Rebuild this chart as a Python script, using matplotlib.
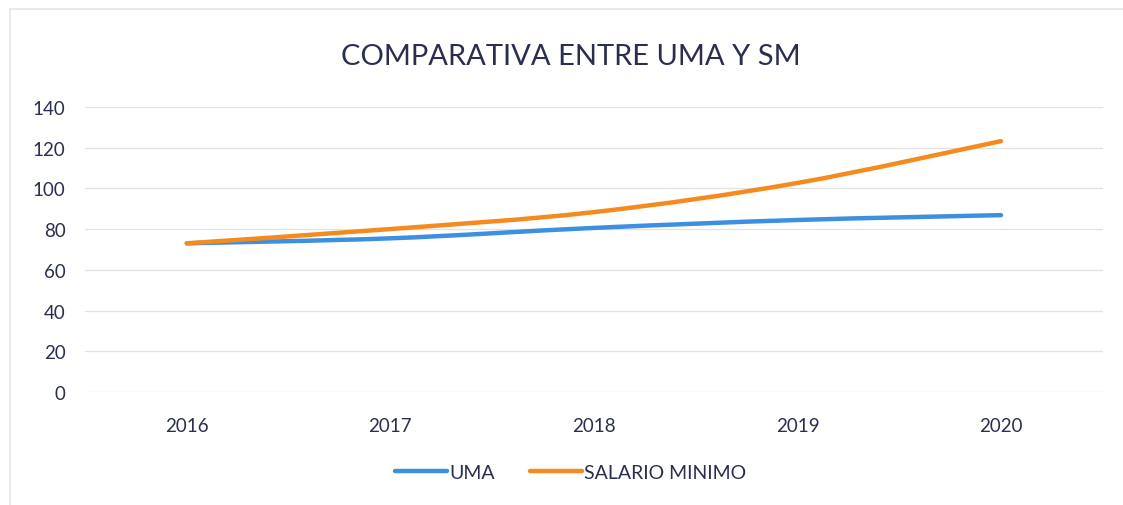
import matplotlib.pyplot as plt
from matplotlib.path import Path
from matplotlib.patches import PathPatch, Rectangle
from matplotlib.lines import Line2D

# data
years = ["2016", "2017", "2018", "2019", "2020"]
uma = [73.04, 75.49, 80.60, 84.49, 86.88]
salario_minimo = [73.04, 80.04, 88.36, 102.68, 123.22]

navy = "#2b2f4f"
blue = "#3d8fe0"
orange = "#f58a1f"

plt.rcParams['font.family'] = ['Lato', 'DejaVu Sans']


def smooth_path(xs, ys):
    # excel-like smoothed line: bezier segments through the points
    verts = [(xs[0], ys[0])]
    codes = [Path.MOVETO]
    n = len(xs)
    for i in range(n - 1):
        x0, y0 = (xs[i - 1], ys[i - 1]) if i > 0 else (xs[i], ys[i])
        x1, y1 = xs[i], ys[i]
        x2, y2 = xs[i + 1], ys[i + 1]
        x3, y3 = (xs[i + 2], ys[i + 2]) if i + 2 < n else (x2, y2)
        c1 = (x1 + (x2 - x0) / 6, y1 + (y2 - y0) / 6)
        c2 = (x2 - (x3 - x1) / 6, y2 - (y3 - y1) / 6)
        verts += [c1, c2, (x2, y2)]
        codes += [Path.CURVE4] * 3
    return Path(verts, codes)


fig = plt.figure(figsize=(11.23, 5.06), dpi=100)
ax = fig.add_axes([0.0757, 0.2233, 0.9063, 0.5633])

x = list(range(len(years)))
for vals, col in [(uma, blue), (salario_minimo, orange)]:
    ax.add_patch(PathPatch(smooth_path(x, vals), facecolor="none",
                           edgecolor=col, lw=3.2, capstyle="round", zorder=3))

ax.set_xlim(-0.5, len(years) - 0.5)
ax.set_ylim(0, 140)
ax.set_yticks(range(0, 141, 20))
ax.set_xticks(x)
ax.set_xticklabels(years)
ax.tick_params(length=0, labelsize=13.5, labelcolor=navy)
ax.tick_params(axis='x', pad=18)
ax.tick_params(axis='y', pad=14)
ax.grid(axis='y', color="#e2e2e2", lw=0.9)
ax.set_axisbelow(True)
for s in ax.spines.values():
    s.set_visible(False)

fig.text(0.508, 0.888, "COMPARATIVA ENTRE UMA Y SM", ha="center", va="center",
         fontsize=21, color=navy)

handles = [Line2D([], [], color=blue, lw=3.2, solid_capstyle="round"),
           Line2D([], [], color=orange, lw=3.2, solid_capstyle="round")]
fig.legend(handles, ["UMA", "SALARIO MINIMO"], loc="center", bbox_to_anchor=(0.508, 0.065),
           ncol=2, frameon=False, fontsize=14, labelcolor=navy,
           handlelength=2.7, handletextpad=0.1, columnspacing=1.8)

# faint chart border
fig.patches.append(Rectangle((0.009, -0.05), 1.2, 1.03, transform=fig.transFigure,
                             fill=False, edgecolor="#e6e6e6", lw=1.2))

fig.savefig("out.png", dpi=100)
